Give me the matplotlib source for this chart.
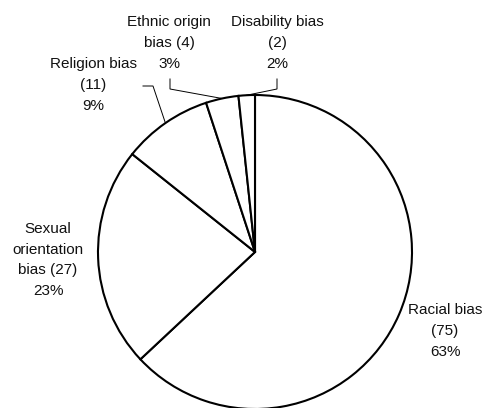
import numpy as np
import matplotlib.pyplot as plt

plt.rcParams["font.family"] = ["Liberation Sans", "DejaVu Sans"]

# hate crime counts by motivation
labels = ["Racial bias", "Sexual orientation bias", "Religion bias",
          "Ethnic origin bias", "Disability bias"]
counts = [75, 27, 11, 4, 2]
label_text = ["Racial bias\n(75)\n63%",
              "Sexual\norientation\nbias (27)\n23%",
              "Religion bias\n(11)\n9%",
              "Ethnic origin\nbias (4)\n3%",
              "Disability bias\n(2)\n2%"]

W, H = 486, 408
fig = plt.figure(figsize=(W / 100, H / 100), dpi=100)
ax = fig.add_axes([0, 0, 1, 1])

cx, cy, r = 255, 156, 157
wedges, _ = ax.pie(counts, center=(cx, cy), radius=r, startangle=90,
                   counterclock=False, frame=True,
                   wedgeprops=dict(facecolor="white", edgecolor="black",
                                   linewidth=1.5))
ax.set_xlim(0, W)
ax.set_ylim(0, H)
ax.set_aspect("equal")
ax.axis("off")

# label positions (centre of text block) and leader elbows
text_pos = [(445, 77), (48, 148), (93, 323), (169, 365), (277, 365)]
leaders = {2: [(143, 322), (153, 322)],
           3: [(170, 329), (170, 319)],
           4: [(277, 329), (277, 319)]}

for i, (txt, (tx, ty)) in enumerate(zip(label_text, text_pos)):
    ax.text(tx, ty, txt, ha="center", va="center", fontsize=11,
            linespacing=1.6, color="#111111")
    if i in leaders:
        w = wedges[i]
        mid = np.deg2rad((w.theta1 + w.theta2) / 2)
        ex, ey = cx + r * np.cos(mid), cy + r * np.sin(mid)
        pts = leaders[i] + [(ex, ey)]
        ax.plot([p[0] for p in pts], [p[1] for p in pts], color="black",
                lw=0.7, solid_joinstyle="miter")

fig.savefig("out.png", dpi=100)
